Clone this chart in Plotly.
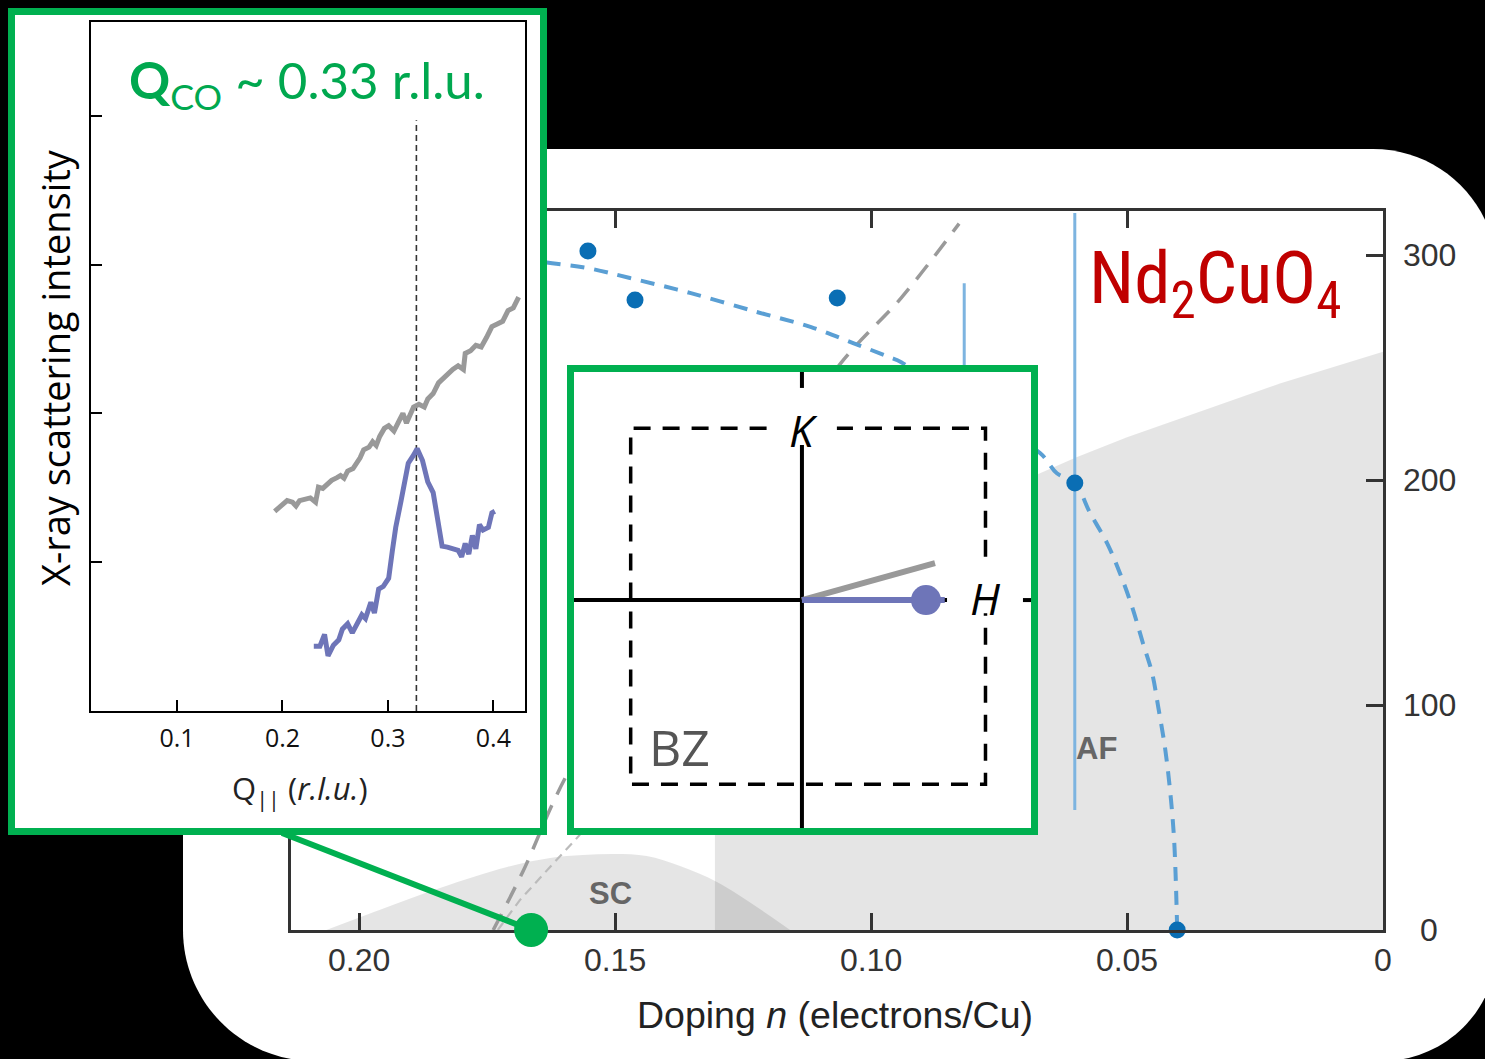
import plotly.graph_objects as go

W, H = 1485, 1059

# ---------------- data: main phase diagram ----------------
DOPING_RANGE = [0.2133, 0.0]
TEMP_RANGE = [0, 319.6]
x_ticks = [0.20, 0.15, 0.10, 0.05, 0.0]
x_tick_labels = ["0.20", "0.15", "0.10", "0.05", "0"]
y_ticks = [0, 100, 200, 300]
y_tick_labels = ["0", "100", "200", "300"]

sc_doping = [0.2064, 0.1959, 0.1842, 0.1711, 0.1627, 0.1563, 0.1500, 0.1438, 0.1373, 0.1301, 0.1223, 0.1158]
sc_tc = [0, 9, 18.7, 28, 32, 33.3, 33.8, 32.9, 28.4, 21.3, 10.2, 0]

af_doping = [0.0, 0.01, 0.02, 0.03, 0.04, 0.05, 0.06, 0.067, 0.075, 0.085, 0.095, 0.105, 0.115,
             0.1305, 0.1305, 0.0]
af_temp = [257, 250, 243, 235, 227, 219, 210, 203, 194, 182, 169, 154, 137, 105, 0, 0]

gray_dark_doping = [0.1738, 0.1680, 0.1594, 0.1350, 0.1059, 0.0941, 0.0828]
gray_dark_temp = [0, 26, 69, 158, 252, 281, 314]

gray_light_doping = [0.1729, 0.1686, 0.1627, 0.1578, 0.1500]
gray_light_temp = [0, 13.3, 28, 40, 60]

blue_curve_doping = [0.1680, 0.1623, 0.1553, 0.1471, 0.1352, 0.1223, 0.1117, 0.1035, 0.0965, 0.0941,
                     0.0826, 0.0670, 0.0637, 0.0602, 0.0572, 0.0539, 0.0514, 0.0490, 0.0469, 0.0451,
                     0.0439, 0.0426, 0.0416, 0.0408, 0.0402]
blue_curve_temp = [298, 296.4, 294.2, 289.8, 283.1, 274.7, 268.0, 260.9, 254.7, 252.4,
                   233, 212, 203, 198.7, 185.3, 172, 158.7, 143.6, 127.6, 114.2,
                   99.1, 81.3, 62.2, 40, 0]

vline1_doping = [0.0602, 0.0602]
vline1_temp = [53.3, 318.7]
vline2_doping = [0.0818, 0.0818]
vline2_temp = [100, 287.5]

dots_doping = [0.1553, 0.1461, 0.1066, 0.0602, 0.0402]
dots_temp = [301.8, 280, 280.9, 198.7, 0]

co_doping = 0.1664
co_temp = 0

# ---------------- data: X-ray inset ----------------
q_gray = [0.1926, 0.1993, 0.2044, 0.2095, 0.2128, 0.2162, 0.2213, 0.2264, 0.2314, 0.2341, 0.2382,
          0.2416, 0.2466, 0.2517, 0.2551, 0.2584, 0.2618, 0.2669, 0.2703, 0.2736, 0.2770, 0.2821,
          0.2855, 0.2889, 0.2922, 0.2966, 0.3007, 0.3057, 0.3108, 0.3142, 0.3176, 0.3209, 0.3243,
          0.3294, 0.3345, 0.3378, 0.3429, 0.3480, 0.3514, 0.3564, 0.3615, 0.3666, 0.3716, 0.3733,
          0.3784, 0.3834, 0.3885, 0.3936, 0.3986, 0.4037, 0.4088, 0.4139, 0.4189, 0.4240]
i_gray = [1.342, 1.378, 1.414, 1.403, 1.378, 1.414, 1.424, 1.432, 1.403, 1.504, 1.496,
          1.522, 1.550, 1.568, 1.583, 1.565, 1.612, 1.629, 1.665, 1.701, 1.755, 1.773,
          1.809, 1.784, 1.845, 1.899, 1.917, 1.881, 1.953, 2.000, 1.935, 1.989, 2.043,
          2.061, 2.043, 2.097, 2.133, 2.205, 2.230, 2.259, 2.295, 2.320, 2.295, 2.403,
          2.421, 2.457, 2.446, 2.511, 2.583, 2.601, 2.619, 2.691, 2.709, 2.781]
q_purple = [0.2297, 0.2355, 0.2399, 0.2432, 0.2483, 0.2534, 0.2568, 0.2618, 0.2662, 0.2703, 0.2753,
            0.2787, 0.2838, 0.2872, 0.2912, 0.2956, 0.3007, 0.3041, 0.3074, 0.3125, 0.3159, 0.3193,
            0.3243, 0.3277, 0.3328, 0.3378, 0.3429, 0.3463, 0.3514, 0.3564, 0.3615, 0.3666, 0.3699,
            0.3733, 0.3767, 0.3801, 0.3834, 0.3868, 0.3902, 0.3953, 0.3986, 0.4014]
i_purple = [0.435, 0.435, 0.514, 0.371, 0.442, 0.478, 0.550, 0.586, 0.525, 0.586, 0.647,
            0.622, 0.730, 0.658, 0.820, 0.838, 0.892, 1.072, 1.234, 1.414, 1.540, 1.665,
            1.719, 1.763, 1.683, 1.540, 1.468, 1.324, 1.108, 1.101, 1.090, 1.079, 1.036,
            1.126, 1.054, 1.180, 1.090, 1.252, 1.216, 1.234, 1.331, 1.342]
Q_CO = 0.327
q_marker_top = 3.97
inset_x_ticks = [0.1, 0.2, 0.3, 0.4]
inset_x_labels = ["0.1", "0.2", "0.3", "0.4"]
inset_y_ticks = [0, 1, 2, 3, 4]

# ---------------- data: Brillouin-zone sketch (r.l.u.) ----------------
bz_left, bz_right, bz_top, bz_bottom = -0.4556, 0.4883, 0.4566, -0.4894
k_gap = [-0.094, 0.093]
h_gap = [-0.035, 0.115]
k_axis_lower = [-0.625, 0.412]
k_axis_upper = [0.564, 0.625]
h_axis_main = [-0.625, 0.386]
h_axis_tail = [0.588, 0.628]
q_vec_gray = [0.354, 0.098]
q_vec_purple = [0.38, 0.0]
q_co_point = [0.33, 0.0]


def P(x, y):
    return x / W, 1 - y / H


MX0, MY0 = P(291, 930)
MX1, MY1 = P(1383, 211)


def main_paper(n, t):
    fx = MX0 + (DOPING_RANGE[0] - n) / (DOPING_RANGE[0] - DOPING_RANGE[1]) * (MX1 - MX0)
    fy = MY0 + (t - TEMP_RANGE[0]) / (TEMP_RANGE[1] - TEMP_RANGE[0]) * (MY1 - MY0)
    return fx, fy


GREEN = "#00B050"
BLUE_DASH = "#5A9FD4"
BLUE_LINE = "#7DB4E0"
BLUE_DOT = "#0A6EB4"
GRAY = "#999999"
PURPLE = "#6E75B8"
MAIN_FONT = "Liberation Sans, Arial, sans-serif"
INSET_FONT = "Open Sans, Noto Sans, sans-serif"

fig = go.Figure()

# ---- main subplot traces ----
fig.add_trace(go.Scatter(x=sc_doping, y=sc_tc, fill="toself", fillcolor="rgba(0,0,0,0.10)",
                         mode="lines", line=dict(width=0), line_shape="spline", hoverinfo="skip"))
fig.add_trace(go.Scatter(x=af_doping, y=af_temp, fill="toself", fillcolor="rgba(0,0,0,0.10)",
                         mode="lines", line=dict(width=0), hoverinfo="skip"))
fig.add_trace(go.Scatter(x=gray_light_doping, y=gray_light_temp, mode="lines",
                         line=dict(color="#BBBBBB", width=2.2, dash="9px,6px")))
fig.add_trace(go.Scatter(x=gray_dark_doping, y=gray_dark_temp, mode="lines", line_shape="spline",
                         line=dict(color="#9A9A9A", width=3.5, dash="18px,12px")))
fig.add_trace(go.Scatter(x=vline1_doping, y=vline1_temp, mode="lines",
                         line=dict(color=BLUE_LINE, width=3)))
fig.add_trace(go.Scatter(x=vline2_doping, y=vline2_temp, mode="lines",
                         line=dict(color=BLUE_LINE, width=3)))
fig.add_trace(go.Scatter(x=blue_curve_doping, y=blue_curve_temp, mode="lines", line_shape="spline",
                         line=dict(color=BLUE_DASH, width=4, dash="14px,10px")))
fig.add_trace(go.Scatter(x=dots_doping, y=dots_temp, mode="markers", cliponaxis=False,
                         marker=dict(color=BLUE_DOT, size=17, line=dict(width=0))))

# ---- left box background subplot ----
fig.add_trace(go.Scatter(x=[0], y=[0], xaxis="x2", yaxis="y2", mode="markers",
                         marker=dict(opacity=0), hoverinfo="skip"))

# ---- X-ray inset ----
fig.add_trace(go.Scatter(x=[Q_CO, Q_CO], y=[0, q_marker_top], xaxis="x3", yaxis="y3", mode="lines",
                         line=dict(color="#333333", width=1.6, dash="6px,4px")))
fig.add_trace(go.Scatter(x=q_gray, y=i_gray, xaxis="x3", yaxis="y3", mode="lines",
                         line=dict(color=GRAY, width=5)))
fig.add_trace(go.Scatter(x=q_purple, y=i_purple, xaxis="x3", yaxis="y3", mode="lines",
                         line=dict(color=PURPLE, width=5)))

# ---- BZ sketch ----
bz_x = [k_gap[0], bz_left, bz_left, bz_right, bz_right, None, bz_right, bz_right, k_gap[1]]
bz_y = [bz_top, bz_top, bz_bottom, bz_bottom, h_gap[0], None, h_gap[1], bz_top, bz_top]
fig.add_trace(go.Scatter(x=bz_x, y=bz_y, xaxis="x4", yaxis="y4", mode="lines",
                         line=dict(color="black", width=3.5, dash="17px,12px")))
fig.add_trace(go.Scatter(x=[0, 0, None, 0, 0], y=k_axis_lower + [None] + k_axis_upper,
                         xaxis="x4", yaxis="y4", mode="lines", line=dict(color="black", width=4)))
fig.add_trace(go.Scatter(x=h_axis_main + [None] + h_axis_tail, y=[0, 0, None, 0, 0],
                         xaxis="x4", yaxis="y4", mode="lines", line=dict(color="black", width=4)))
fig.add_trace(go.Scatter(x=[0, q_vec_gray[0]], y=[0, q_vec_gray[1]], xaxis="x4", yaxis="y4",
                         mode="lines", line=dict(color=GRAY, width=6)))
fig.add_trace(go.Scatter(x=[0, q_vec_purple[0]], y=[0, q_vec_purple[1]], xaxis="x4", yaxis="y4",
                         mode="lines", line=dict(color=PURPLE, width=6)))
fig.add_trace(go.Scatter(x=[q_co_point[0]], y=[q_co_point[1]], xaxis="x4", yaxis="y4",
                         mode="markers", marker=dict(color=PURPLE, size=30)))

# ---------------- shapes ----------------
def rounded_path(L, T, R, B, rtl, rtr, rbr, rbl):
    k = 0.5523

    def p(x, y):
        fx, fy = P(x, y)
        return f"{fx:.5f},{fy:.5f}"
    s = f"M {p(L + rtl, T)} L {p(R - rtr, T)} "
    s += f"C {p(R - rtr + k * rtr, T)} {p(R, T + rtr - k * rtr)} {p(R, T + rtr)} "
    s += f"L {p(R, B - rbr)} "
    s += f"C {p(R, B - rbr + k * rbr)} {p(R - rbr + k * rbr, B)} {p(R - rbr, B)} "
    s += f"L {p(L + rbl, B)} "
    s += f"C {p(L + rbl - k * rbl, B)} {p(L, B - rbl + k * rbl)} {p(L, B - rbl)} "
    s += f"L {p(L, T + rtl)} "
    s += f"C {p(L, T + rtl - k * rtl)} {p(L + rtl - k * rtl, T)} {p(L + rtl, T)} Z"
    return s


shapes = []
shapes.append(dict(type="path", xref="paper", yref="paper", layer="below",
                   path=rounded_path(183, 149, 1497, 1061, 124, 124, 115, 131),
                   fillcolor="white", line=dict(width=0)))
bx0, by0 = P(11.5, 831.5)
bx1, by1 = P(543.5, 11.5)
shapes.append(dict(type="rect", xref="paper", yref="paper", x0=bx0, y0=by0, x1=bx1, y1=by1,
                   line=dict(color=GREEN, width=7), layer="above"))
cx0, cy0 = P(570.5, 831.5)
cx1, cy1 = P(1034.5, 368.5)
shapes.append(dict(type="rect", xref="paper", yref="paper", x0=cx0, y0=cy0, x1=cx1, y1=cy1,
                   line=dict(color=GREEN, width=7), layer="above"))
lx0, ly0 = P(282, 833)
lx1, ly1 = main_paper(co_doping, co_temp)
shapes.append(dict(type="line", xref="paper", yref="paper", x0=lx0, y0=ly0, x1=lx1, y1=ly1,
                   line=dict(color=GREEN, width=6), layer="above"))
shapes.append(dict(type="circle", xref="paper", yref="paper", xsizemode="pixel", ysizemode="pixel",
                   xanchor=lx1, yanchor=ly1, x0=-17, x1=17, y0=-17, y1=17,
                   fillcolor=GREEN, line=dict(width=0), layer="above"))

# ---------------- annotations ----------------
ann = []


def text(x, y, s, size, color, family, xanchor="center", yanchor="middle", angle=0):
    fx, fy = P(x, y)
    ann.append(dict(x=fx, y=fy, xref="paper", yref="paper", text=s, showarrow=False,
                    xanchor=xanchor, yanchor=yanchor, textangle=angle,
                    font=dict(size=size, color=color, family=family)))


text(307, 84, "<b>Q</b><sub>CO</sub> ~ 0.33 r.l.u.", 51, "#00A84F", "Lato, Open Sans, sans-serif")
text(55, 368, "X-ray scattering intensity", 38, "black", INSET_FONT, angle=-90)
text(300, 790, "Q<sub>||</sub> (<i>r.l.u.</i>)", 31, "#222222", INSET_FONT)
text(1087, 282, "Nd<sub>2</sub>CuO<sub>4</sub>", 73, "#C00000",
     "Liberation Sans Narrow, Roboto Condensed, Arial Narrow, Roboto, sans-serif", xanchor="left")
text(610, 893, "<b>SC</b>", 31, "#666666", MAIN_FONT)
text(1096, 748, "<b>AF</b>", 31, "#666666", MAIN_FONT)
text(835, 1015, "Doping <i>n</i> (electrons/Cu)", 37.5, "#222222", MAIN_FONT)
text(803, 430, "<i>K</i>", 44, "black", INSET_FONT)
text(985, 598, "<i>H</i>", 44, "black", INSET_FONT)
text(679, 747, "BZ", 50, "#555555", INSET_FONT)

# centred right-hand temperature tick labels, placed on the main y scale
ylab_x = P(1429, 0)[0]
for val, lab in zip(y_ticks, y_tick_labels):
    ann.append(dict(x=ylab_x, y=val, xref="paper", yref="y", text=lab, showarrow=False,
                    xanchor="center", yanchor="middle",
                    font=dict(size=32, color="#333333", family=MAIN_FONT)))

# ---------------- layout ----------------
axis_common = dict(showgrid=False, zeroline=False, fixedrange=True)
fig.update_layout(
    width=W, height=H,
    margin=dict(l=0, r=0, t=0, b=0),
    paper_bgcolor="black", plot_bgcolor="white",
    showlegend=False, template="none",
    shapes=shapes, annotations=ann,
    xaxis=dict(domain=[MX0, MX1], range=DOPING_RANGE, anchor="y", **axis_common,
               showline=True, linecolor="#333333", linewidth=3, mirror="ticks",
               ticks="inside", ticklen=17, tickwidth=3, tickcolor="#333333",
               tickvals=x_ticks, ticktext=x_tick_labels, ticklabelstandoff=0,
               tickfont=dict(size=32, color="#333333", family=MAIN_FONT)),
    yaxis=dict(domain=[MY0, MY1], range=TEMP_RANGE, anchor="x", side="right", **axis_common,
               showline=True, linecolor="#333333", linewidth=3, mirror="ticks",
               ticks="inside", ticklen=17, tickwidth=3, tickcolor="#333333",
               tickvals=y_ticks, showticklabels=False),
    xaxis2=dict(domain=[P(8, 0)[0], P(547, 0)[0]], range=[0, 1], anchor="y2", visible=False, **axis_common),
    yaxis2=dict(domain=[P(0, 835)[1], P(0, 8)[1]], range=[0, 1], anchor="x2", visible=False, **axis_common),
    xaxis3=dict(domain=[P(91, 0)[0], P(525, 0)[0]], range=[0.0184, 0.430], anchor="y3", **axis_common,
                showline=True, linecolor="black", linewidth=2, mirror=True,
                ticks="inside", ticklen=11, tickwidth=2, tickcolor="black",
                tickvals=inset_x_ticks, ticktext=inset_x_labels, ticklabelstandoff=4,
                tickfont=dict(size=25, color="#111111", family=INSET_FONT)),
    yaxis3=dict(domain=[P(0, 711)[1], P(0, 22)[1]], range=[0, 4.63], anchor="x3", **axis_common,
                showline=True, linecolor="black", linewidth=2, mirror=True,
                ticks="inside", ticklen=11, tickwidth=2, tickcolor="black",
                tickvals=inset_y_ticks, showticklabels=False),
    xaxis4=dict(domain=[P(567, 0)[0], P(1038, 0)[0]], range=[-0.625, 0.628], anchor="y4",
                visible=False, **axis_common),
    yaxis4=dict(domain=[P(0, 834)[1], P(0, 365)[1]], range=[-0.622, 0.625], anchor="x4",
                visible=False, **axis_common),
)

fig.write_html("out.html")
